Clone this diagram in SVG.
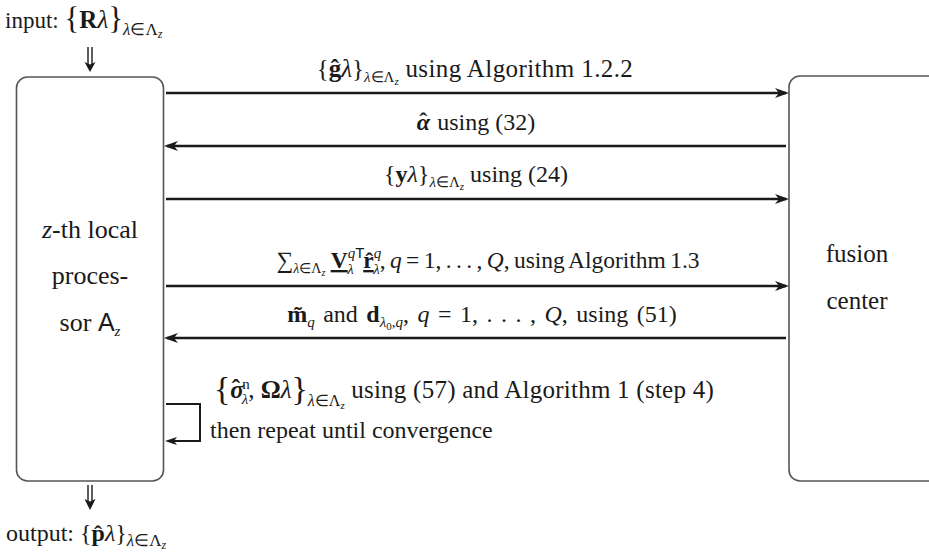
<svg xmlns="http://www.w3.org/2000/svg" width="929" height="555" viewBox="0 0 929 555">
<style>
text{font-family:"Liberation Serif","Times New Roman",serif;font-size:24px;fill:#1a1a1a}
.b{font-weight:bold}
.i{font-style:italic}
.s{font-family:"Liberation Sans",Arial,sans-serif;font-style:normal}
.sub{font-size:15px}
.ss{font-size:11px}
.br{font-size:34px}
.box{fill:#fff;stroke:#555;stroke-width:1.6}
.arr{stroke:#1a1a1a;stroke-width:2.6;fill:none}
.thin{stroke:#1a1a1a;stroke-width:2;fill:none}
</style>
<defs>
<marker id="ah" markerUnits="userSpaceOnUse" markerWidth="16" markerHeight="12" refX="11" refY="5" orient="auto">
<path d="M0,0 L14,5 L0,10 L4,5 Z" fill="#1a1a1a"/>
</marker>
<marker id="ahs" markerUnits="userSpaceOnUse" markerWidth="14" markerHeight="10" refX="9" refY="4" orient="auto">
<path d="M0,0 L12,4 L0,8 L3,4 Z" fill="#1a1a1a"/>
</marker>
</defs>

<g id="input">
<text x="5" y="28" style="font-size:23px">input: <tspan class="br" dy="1" style="font-size:31px">{</tspan><tspan class="b" dy="-1" style="font-size:25px">R</tspan><tspan class="i" style="font-size:25px">λ</tspan><tspan class="br" dy="1" style="font-size:31px">}</tspan><tspan class="sub i" dy="6" style="font-size:17px">λ</tspan><tspan class="sub" style="font-size:17px">∈Λ</tspan><tspan class="ss i" dy="3" style="font-size:12px">z</tspan></text>
<path d="M88,47 V64 M92,47 V64" stroke="#1a1a1a" stroke-width="1.4"/>
<path d="M84.5,62 L90,72 L95.5,62 L90,64.5 Z" fill="#1a1a1a"/>
</g>

<g id="local">
<rect class="box" x="16.5" y="77" width="147" height="404" rx="11"/>
<text x="90" y="238" text-anchor="middle" style="font-size:26px"><tspan class="i">z</tspan>-th local</text>
<text x="90" y="284" text-anchor="middle" style="font-size:26px">proces-</text>
<text x="90" y="331" text-anchor="middle" style="font-size:26px">sor <tspan class="s" style="font-size:25px">A</tspan><tspan class="sub i" dy="5">z</tspan></text>
</g>

<g id="fusion">
<rect class="box" x="789" y="76" width="170" height="405" rx="11"/>
<text x="857" y="262" text-anchor="middle" style="font-size:25px">fusion</text>
<text x="857" y="309" text-anchor="middle" style="font-size:25px">center</text>
</g>

<g id="output">
<path d="M88,485 V501 M92,485 V501" stroke="#1a1a1a" stroke-width="1.4"/>
<path d="M84.5,499 L90,510 L95.5,499 L90,501.5 Z" fill="#1a1a1a"/>
<text x="6" y="541" style="font-size:24px">output: {<tspan class="b">p̂</tspan><tspan class="i">λ</tspan>}<tspan class="sub i" dy="5" style="font-size:17px">λ</tspan><tspan class="sub" style="font-size:17px">∈Λ</tspan><tspan class="ss i" dy="3" style="font-size:12px">z</tspan></text>
</g>

<g id="connectors">
<line class="arr" x1="166" y1="93" x2="786" y2="93" marker-end="url(#ah)"/>
<line class="arr" x1="786" y1="146" x2="167" y2="146" marker-end="url(#ah)"/>
<line class="arr" x1="166" y1="199" x2="786" y2="199" marker-end="url(#ah)"/>
<line class="arr" x1="166" y1="286" x2="786" y2="286" marker-end="url(#ah)"/>
<line class="arr" x1="786" y1="338" x2="167" y2="338" marker-end="url(#ah)"/>
<path class="thin" d="M166,404 H200 V441 H168" marker-end="url(#ahs)"/>

<text x="475" y="77" text-anchor="middle" style="font-size:25px">{<tspan class="b">ĝ</tspan><tspan class="i">λ</tspan>}<tspan class="sub i" dy="5">λ</tspan><tspan class="sub">∈Λ</tspan><tspan class="ss i" dy="3">z</tspan><tspan dy="-8" style="letter-spacing:0.4px"> using Algorithm 1.2.2</tspan></text>
<text x="476" y="130" text-anchor="middle"><tspan class="b i">α</tspan><tspan class="b" dx="-11" dy="-1">ˆ</tspan><tspan dx="4" dy="1"> using (32)</tspan></text>
<text x="476" y="182" text-anchor="middle">{<tspan class="b">y</tspan><tspan class="i">λ</tspan>}<tspan class="sub i" dy="5">λ</tspan><tspan class="sub">∈Λ</tspan><tspan class="ss i" dy="3">z</tspan><tspan dy="-8"> using (24)</tspan></text>
<text x="488" y="268" text-anchor="middle" style="font-size:23.5px;word-spacing:-1.5px">∑<tspan class="sub i" dy="5" style="font-size:14px">λ</tspan><tspan class="sub" style="font-size:14px">∈Λ</tspan><tspan class="ss i" dy="3" style="font-size:10px">z</tspan><tspan dy="-8" dx="1"> </tspan><tspan class="b" text-decoration="underline">V</tspan><tspan class="sub i" dy="-10">q</tspan><tspan class="sub s">T</tspan><tspan class="sub i" dx="-17" dy="16">λ</tspan><tspan dx="5" dy="-6"> </tspan><tspan class="b" text-decoration="underline">r̂</tspan><tspan class="sub i" dy="-10">q</tspan><tspan class="sub i" dx="-8" dy="16">λ</tspan><tspan dy="-6">, <tspan class="i">q</tspan> = 1, . . . , <tspan class="i">Q</tspan>, using Algorithm 1.3</tspan></text>
<text x="482" y="322" text-anchor="middle" style="word-spacing:2.5px"><tspan class="b">m̃</tspan><tspan class="sub i" dy="5">q</tspan><tspan dy="-5"> and </tspan><tspan class="b">d</tspan><tspan class="sub i" dy="5">λ</tspan><tspan class="ss" dy="3">0</tspan><tspan class="sub" dy="-3">,</tspan><tspan class="sub i">q</tspan><tspan dy="-5">,  <tspan class="i">q</tspan> = 1, . . . , <tspan class="i">Q</tspan>,  using (51)</tspan></text>

<text x="214" y="398" style="font-size:25px"><tspan class="br" dy="2">{</tspan><tspan class="b i" dy="-2">σ</tspan><tspan class="b" dx="-12" dy="-1">ˆ</tspan><tspan class="sub" dx="2" dy="-8">n</tspan><tspan class="sub i" dx="-8" dy="15">λ</tspan><tspan dy="-6">, </tspan><tspan class="b">Ω</tspan><tspan class="i">λ</tspan><tspan class="br" dy="2">}</tspan><tspan class="sub i" dy="6" style="font-size:16px">λ</tspan><tspan class="sub" style="font-size:16px">∈Λ</tspan><tspan class="ss i" dy="3">z</tspan><tspan dy="-11" style="letter-spacing:0.25px">  using (57) and Algorithm 1 (step 4)</tspan></text>
<text x="210" y="438">then repeat until convergence</text>
</g>
</svg>
